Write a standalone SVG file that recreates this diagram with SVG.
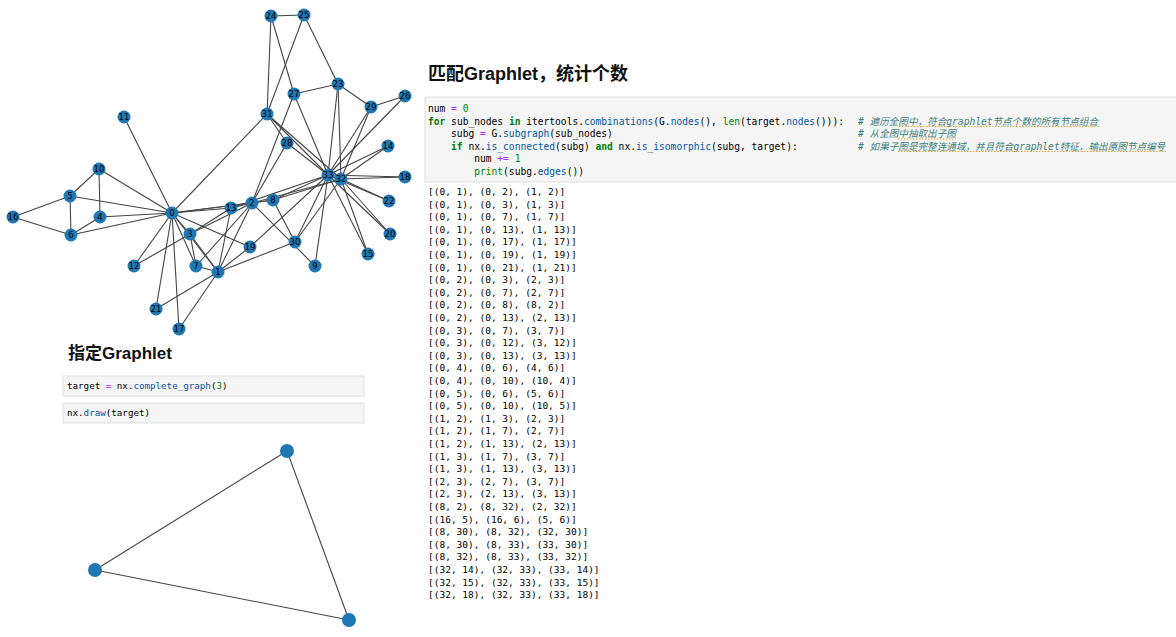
<svg xmlns="http://www.w3.org/2000/svg" width="1176" height="637" viewBox="0 0 1176 637">
<style>
.e{stroke:#444;stroke-width:1.1;fill:none}
.n circle{fill:#1f78b4}
.n text{font-family:"DejaVu Sans",sans-serif;font-size:8.5px;fill:#000;text-anchor:middle}
.h{font-family:"Liberation Sans","Noto Sans CJK SC",sans-serif;font-weight:bold;fill:#111}
.cell{fill:#f5f5f5;stroke:#e0e0e0;stroke-width:1}
.c{font-family:"DejaVu Sans Mono","Noto Sans CJK SC",monospace;font-size:9.6px;fill:#000}
.s{font-family:"DejaVu Sans Mono",monospace;font-size:9.2px;fill:#000}
.o{font-family:"DejaVu Sans Mono",monospace;font-size:9.5px;fill:#000}
.kw{fill:#008000;font-weight:bold}
.op{fill:#aa22ff}
.num{fill:#008800}
.bi{fill:#008000}
.pr{fill:#0055aa}
.cm{fill:#408080;font-style:italic;font-family:"DejaVu Sans Mono","Noto Sans CJK SC",monospace;font-size:9.6px}
.ul{stroke:#f0a030;stroke-width:1;stroke-dasharray:1.5 1.5}
</style>

<g id="edges">
<line class="e" x1="172" y1="213" x2="218" y2="272"/>
<line class="e" x1="172" y1="213" x2="252" y2="203"/>
<line class="e" x1="172" y1="213" x2="190" y2="234"/>
<line class="e" x1="172" y1="213" x2="100" y2="217"/>
<line class="e" x1="172" y1="213" x2="70" y2="196"/>
<line class="e" x1="172" y1="213" x2="71" y2="235"/>
<line class="e" x1="172" y1="213" x2="196" y2="266"/>
<line class="e" x1="172" y1="213" x2="273" y2="200"/>
<line class="e" x1="172" y1="213" x2="99" y2="169"/>
<line class="e" x1="172" y1="213" x2="124" y2="117"/>
<line class="e" x1="172" y1="213" x2="134" y2="266"/>
<line class="e" x1="172" y1="213" x2="231" y2="208"/>
<line class="e" x1="172" y1="213" x2="179" y2="329"/>
<line class="e" x1="172" y1="213" x2="250" y2="247"/>
<line class="e" x1="172" y1="213" x2="156" y2="309"/>
<line class="e" x1="172" y1="213" x2="267" y2="114"/>
<line class="e" x1="218" y1="272" x2="252" y2="203"/>
<line class="e" x1="218" y1="272" x2="190" y2="234"/>
<line class="e" x1="218" y1="272" x2="196" y2="266"/>
<line class="e" x1="218" y1="272" x2="231" y2="208"/>
<line class="e" x1="218" y1="272" x2="179" y2="329"/>
<line class="e" x1="218" y1="272" x2="250" y2="247"/>
<line class="e" x1="218" y1="272" x2="156" y2="309"/>
<line class="e" x1="218" y1="272" x2="295" y2="242"/>
<line class="e" x1="252" y1="203" x2="190" y2="234"/>
<line class="e" x1="252" y1="203" x2="196" y2="266"/>
<line class="e" x1="252" y1="203" x2="273" y2="200"/>
<line class="e" x1="252" y1="203" x2="315" y2="266"/>
<line class="e" x1="252" y1="203" x2="231" y2="208"/>
<line class="e" x1="252" y1="203" x2="294" y2="94"/>
<line class="e" x1="252" y1="203" x2="287" y2="143"/>
<line class="e" x1="252" y1="203" x2="341" y2="179"/>
<line class="e" x1="190" y1="234" x2="196" y2="266"/>
<line class="e" x1="190" y1="234" x2="134" y2="266"/>
<line class="e" x1="190" y1="234" x2="231" y2="208"/>
<line class="e" x1="100" y1="217" x2="71" y2="235"/>
<line class="e" x1="100" y1="217" x2="99" y2="169"/>
<line class="e" x1="70" y1="196" x2="71" y2="235"/>
<line class="e" x1="70" y1="196" x2="99" y2="169"/>
<line class="e" x1="70" y1="196" x2="13" y2="217"/>
<line class="e" x1="71" y1="235" x2="13" y2="217"/>
<line class="e" x1="273" y1="200" x2="295" y2="242"/>
<line class="e" x1="273" y1="200" x2="341" y2="179"/>
<line class="e" x1="273" y1="200" x2="328" y2="175"/>
<line class="e" x1="315" y1="266" x2="328" y2="175"/>
<line class="e" x1="231" y1="208" x2="328" y2="175"/>
<line class="e" x1="388" y1="146" x2="341" y2="179"/>
<line class="e" x1="388" y1="146" x2="328" y2="175"/>
<line class="e" x1="368" y1="254" x2="341" y2="179"/>
<line class="e" x1="368" y1="254" x2="328" y2="175"/>
<line class="e" x1="405" y1="177" x2="341" y2="179"/>
<line class="e" x1="405" y1="177" x2="328" y2="175"/>
<line class="e" x1="250" y1="247" x2="328" y2="175"/>
<line class="e" x1="390" y1="234" x2="341" y2="179"/>
<line class="e" x1="390" y1="234" x2="328" y2="175"/>
<line class="e" x1="389" y1="201" x2="341" y2="179"/>
<line class="e" x1="389" y1="201" x2="328" y2="175"/>
<line class="e" x1="338" y1="84" x2="304" y2="15"/>
<line class="e" x1="338" y1="84" x2="294" y2="94"/>
<line class="e" x1="338" y1="84" x2="371" y2="107"/>
<line class="e" x1="338" y1="84" x2="341" y2="179"/>
<line class="e" x1="338" y1="84" x2="328" y2="175"/>
<line class="e" x1="271" y1="16" x2="304" y2="15"/>
<line class="e" x1="271" y1="16" x2="294" y2="94"/>
<line class="e" x1="271" y1="16" x2="267" y2="114"/>
<line class="e" x1="304" y1="15" x2="267" y2="114"/>
<line class="e" x1="405" y1="96" x2="371" y2="107"/>
<line class="e" x1="405" y1="96" x2="328" y2="175"/>
<line class="e" x1="294" y1="94" x2="328" y2="175"/>
<line class="e" x1="287" y1="143" x2="267" y2="114"/>
<line class="e" x1="287" y1="143" x2="328" y2="175"/>
<line class="e" x1="371" y1="107" x2="341" y2="179"/>
<line class="e" x1="371" y1="107" x2="328" y2="175"/>
<line class="e" x1="295" y1="242" x2="341" y2="179"/>
<line class="e" x1="295" y1="242" x2="328" y2="175"/>
<line class="e" x1="267" y1="114" x2="341" y2="179"/>
<line class="e" x1="267" y1="114" x2="328" y2="175"/>
<line class="e" x1="341" y1="179" x2="328" y2="175"/>
<line class="e" x1="287" y1="451" x2="95" y2="570"/>
<line class="e" x1="287" y1="451" x2="349" y2="620"/>
<line class="e" x1="95" y1="570" x2="349" y2="620"/>
</g>

<g id="n0" class="n"><circle cx="172" cy="213" r="6.5"/><text x="172" y="216">0</text></g>
<g id="n1" class="n"><circle cx="218" cy="272" r="6.5"/><text x="218" y="275">1</text></g>
<g id="n2" class="n"><circle cx="252" cy="203" r="6.5"/><text x="252" y="206">2</text></g>
<g id="n3" class="n"><circle cx="190" cy="234" r="6.5"/><text x="190" y="237">3</text></g>
<g id="n4" class="n"><circle cx="100" cy="217" r="6.5"/><text x="100" y="220">4</text></g>
<g id="n5" class="n"><circle cx="70" cy="196" r="6.5"/><text x="70" y="199">5</text></g>
<g id="n6" class="n"><circle cx="71" cy="235" r="6.5"/><text x="71" y="238">6</text></g>
<g id="n7" class="n"><circle cx="196" cy="266" r="6.5"/><text x="196" y="269">7</text></g>
<g id="n8" class="n"><circle cx="273" cy="200" r="6.5"/><text x="273" y="203">8</text></g>
<g id="n9" class="n"><circle cx="315" cy="266" r="6.5"/><text x="315" y="269">9</text></g>
<g id="n10" class="n"><circle cx="99" cy="169" r="6.5"/><text x="99" y="172">10</text></g>
<g id="n11" class="n"><circle cx="124" cy="117" r="6.5"/><text x="124" y="120">11</text></g>
<g id="n12" class="n"><circle cx="134" cy="266" r="6.5"/><text x="134" y="269">12</text></g>
<g id="n13" class="n"><circle cx="231" cy="208" r="6.5"/><text x="231" y="211">13</text></g>
<g id="n14" class="n"><circle cx="388" cy="146" r="6.5"/><text x="388" y="149">14</text></g>
<g id="n15" class="n"><circle cx="368" cy="254" r="6.5"/><text x="368" y="257">15</text></g>
<g id="n16" class="n"><circle cx="13" cy="217" r="6.5"/><text x="13" y="220">16</text></g>
<g id="n17" class="n"><circle cx="179" cy="329" r="6.5"/><text x="179" y="332">17</text></g>
<g id="n18" class="n"><circle cx="405" cy="177" r="6.5"/><text x="405" y="180">18</text></g>
<g id="n19" class="n"><circle cx="250" cy="247" r="6.5"/><text x="250" y="250">19</text></g>
<g id="n20" class="n"><circle cx="390" cy="234" r="6.5"/><text x="390" y="237">20</text></g>
<g id="n21" class="n"><circle cx="156" cy="309" r="6.5"/><text x="156" y="312">21</text></g>
<g id="n22" class="n"><circle cx="389" cy="201" r="6.5"/><text x="389" y="204">22</text></g>
<g id="n23" class="n"><circle cx="338" cy="84" r="6.5"/><text x="338" y="87">23</text></g>
<g id="n24" class="n"><circle cx="271" cy="16" r="6.5"/><text x="271" y="19">24</text></g>
<g id="n25" class="n"><circle cx="304" cy="15" r="6.5"/><text x="304" y="18">25</text></g>
<g id="n26" class="n"><circle cx="405" cy="96" r="6.5"/><text x="405" y="99">26</text></g>
<g id="n27" class="n"><circle cx="294" cy="94" r="6.5"/><text x="294" y="97">27</text></g>
<g id="n28" class="n"><circle cx="287" cy="143" r="6.5"/><text x="287" y="146">28</text></g>
<g id="n29" class="n"><circle cx="371" cy="107" r="6.5"/><text x="371" y="110">29</text></g>
<g id="n30" class="n"><circle cx="295" cy="242" r="6.5"/><text x="295" y="245">30</text></g>
<g id="n31" class="n"><circle cx="267" cy="114" r="6.5"/><text x="267" y="117">31</text></g>
<g id="n33" class="n"><circle cx="328" cy="175" r="6.5"/><text x="328" y="178">33</text></g>
<g id="n32" class="n"><circle cx="341" cy="179" r="6.5"/><text x="341" y="182">32</text></g>

<g id="t0" class="n"><circle cx="287" cy="451" r="7"/></g>
<g id="t1" class="n"><circle cx="95" cy="570" r="7"/></g>
<g id="t2" class="n"><circle cx="349" cy="620" r="7"/></g>

<g id="heading-left">
<text class="h" x="68" y="359" font-size="17">指定Graphlet</text>
</g>
<g id="cell-target">
<rect class="cell" x="63" y="376" width="301" height="20"/>
<text class="s" x="67" y="389" xml:space="preserve">target <tspan class="op">=</tspan> nx.<tspan class="pr">complete_graph</tspan>(<tspan class="num">3</tspan>)</text>
</g>
<g id="cell-draw">
<rect class="cell" x="63" y="403" width="301" height="20"/>
<text class="s" x="67" y="416" xml:space="preserve">nx.<tspan class="pr">draw</tspan>(target)</text>
</g>

<g id="heading-right">
<text class="h" x="428" y="80" font-size="18">匹配Graphlet，统计个数</text>
</g>

<g id="cell-code">
<rect class="cell" x="425" y="97" width="760" height="85"/>
<text class="c" x="428" y="112" xml:space="preserve">num <tspan class="op">=</tspan> <tspan class="num">0</tspan></text>
<text class="c" x="428" y="124.5" xml:space="preserve"><tspan class="kw">for</tspan> sub_nodes <tspan class="kw">in</tspan> itertools.<tspan class="pr">combinations</tspan>(G.<tspan class="pr">nodes</tspan>(), <tspan class="bi">len</tspan>(target.<tspan class="pr">nodes</tspan>())):</text>
<text class="c" x="451.1" y="137" xml:space="preserve">subg <tspan class="op">=</tspan> G.<tspan class="pr">subgraph</tspan>(sub_nodes)</text>
<text class="c" x="451.1" y="149.5" xml:space="preserve"><tspan class="kw">if</tspan> nx.<tspan class="pr">is_connected</tspan>(subg) <tspan class="kw">and</tspan> nx.<tspan class="pr">is_isomorphic</tspan>(subg, target):</text>
<text class="c" x="474.2" y="162" xml:space="preserve">num <tspan class="op">+=</tspan> <tspan class="num">1</tspan></text>
<text class="c" x="474.2" y="174.5" xml:space="preserve"><tspan class="bi">print</tspan>(subg.<tspan class="pr">edges</tspan>())</text>
<text class="cm" x="858" y="124.5">#  遍历全图中，符合graphlet节点个数的所有节点组合</text>
<text class="cm" x="858" y="137">#  从全图中抽取出子图</text>
<text class="cm" x="858" y="149.5">#  如果子图是完整连通域，并且符合graphlet特征，输出原图节点编号</text>
<line class="ul" x1="899" y1="126.5" x2="1099" y2="126.5"/>
<line class="ul" x1="898" y1="139" x2="956" y2="139"/>
<line class="ul" x1="898" y1="151.5" x2="1166" y2="151.5"/>
</g>

<g id="output">
<text class="o" x="428" y="195">[(0, 1), (0, 2), (1, 2)]</text>
<text class="o" x="428" y="207.6">[(0, 1), (0, 3), (1, 3)]</text>
<text class="o" x="428" y="220.2">[(0, 1), (0, 7), (1, 7)]</text>
<text class="o" x="428" y="232.8">[(0, 1), (0, 13), (1, 13)]</text>
<text class="o" x="428" y="245.4">[(0, 1), (0, 17), (1, 17)]</text>
<text class="o" x="428" y="258">[(0, 1), (0, 19), (1, 19)]</text>
<text class="o" x="428" y="270.6">[(0, 1), (0, 21), (1, 21)]</text>
<text class="o" x="428" y="283.2">[(0, 2), (0, 3), (2, 3)]</text>
<text class="o" x="428" y="295.8">[(0, 2), (0, 7), (2, 7)]</text>
<text class="o" x="428" y="308.4">[(0, 2), (0, 8), (8, 2)]</text>
<text class="o" x="428" y="321">[(0, 2), (0, 13), (2, 13)]</text>
<text class="o" x="428" y="333.6">[(0, 3), (0, 7), (3, 7)]</text>
<text class="o" x="428" y="346.2">[(0, 3), (0, 12), (3, 12)]</text>
<text class="o" x="428" y="358.8">[(0, 3), (0, 13), (3, 13)]</text>
<text class="o" x="428" y="371.4">[(0, 4), (0, 6), (4, 6)]</text>
<text class="o" x="428" y="384">[(0, 4), (0, 10), (10, 4)]</text>
<text class="o" x="428" y="396.6">[(0, 5), (0, 6), (5, 6)]</text>
<text class="o" x="428" y="409.2">[(0, 5), (0, 10), (10, 5)]</text>
<text class="o" x="428" y="421.8">[(1, 2), (1, 3), (2, 3)]</text>
<text class="o" x="428" y="434.4">[(1, 2), (1, 7), (2, 7)]</text>
<text class="o" x="428" y="447">[(1, 2), (1, 13), (2, 13)]</text>
<text class="o" x="428" y="459.6">[(1, 3), (1, 7), (3, 7)]</text>
<text class="o" x="428" y="472.2">[(1, 3), (1, 13), (3, 13)]</text>
<text class="o" x="428" y="484.8">[(2, 3), (2, 7), (3, 7)]</text>
<text class="o" x="428" y="497.4">[(2, 3), (2, 13), (3, 13)]</text>
<text class="o" x="428" y="510">[(8, 2), (8, 32), (2, 32)]</text>
<text class="o" x="428" y="522.6">[(16, 5), (16, 6), (5, 6)]</text>
<text class="o" x="428" y="535.2">[(8, 30), (8, 32), (32, 30)]</text>
<text class="o" x="428" y="547.8">[(8, 30), (8, 33), (33, 30)]</text>
<text class="o" x="428" y="560.4">[(8, 32), (8, 33), (33, 32)]</text>
<text class="o" x="428" y="573">[(32, 14), (32, 33), (33, 14)]</text>
<text class="o" x="428" y="585.6">[(32, 15), (32, 33), (33, 15)]</text>
<text class="o" x="428" y="598.2">[(32, 18), (32, 33), (33, 18)]</text>
</g>
</svg>
